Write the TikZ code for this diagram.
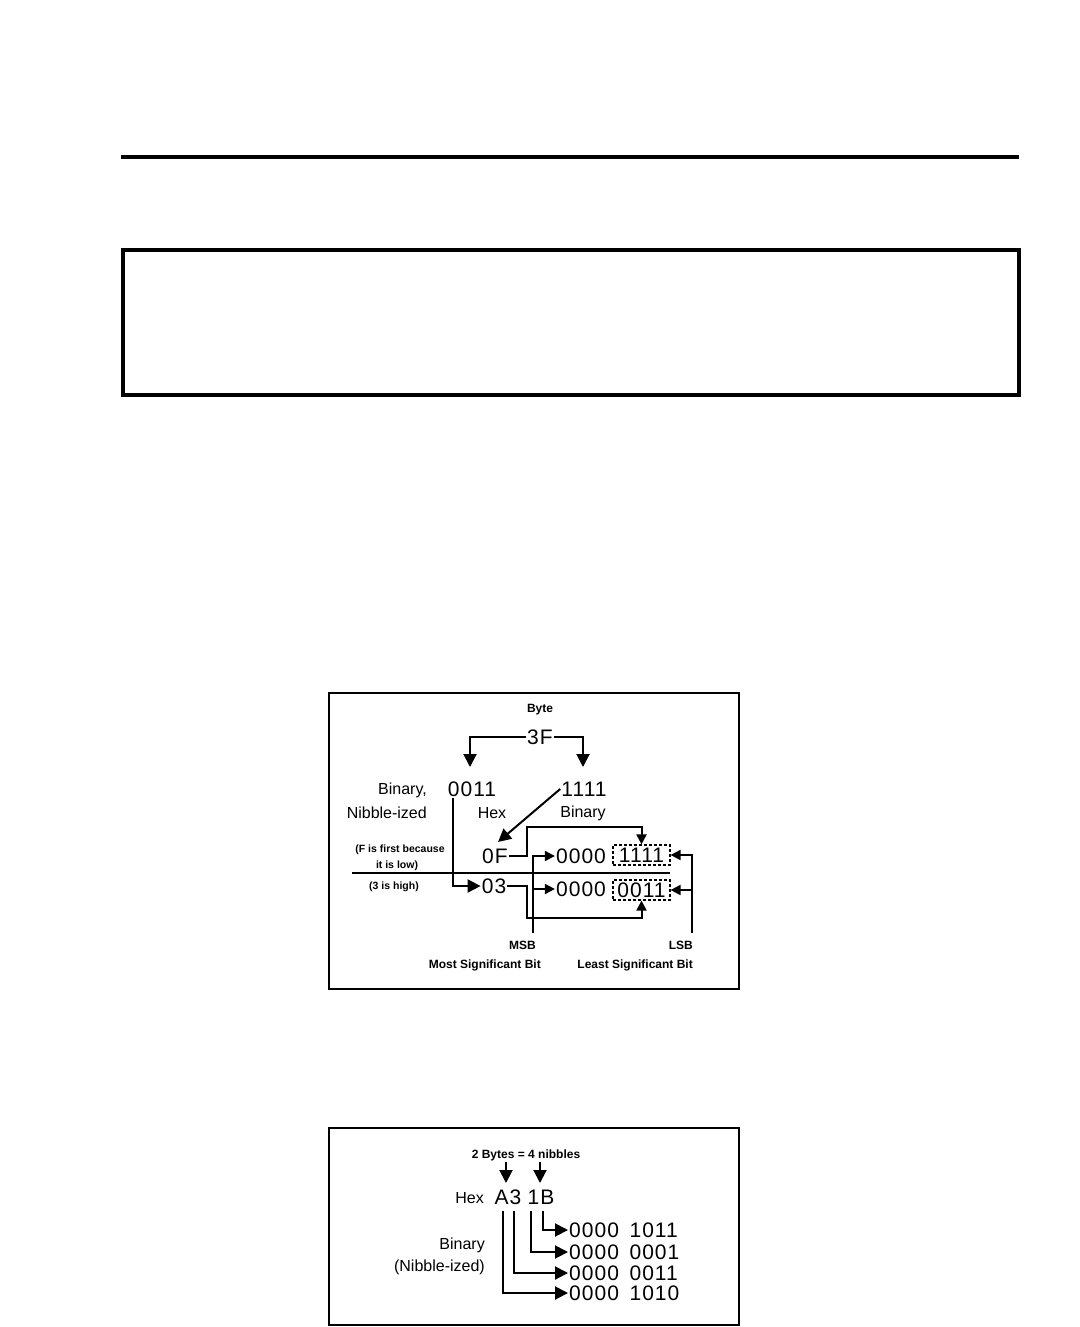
\documentclass[tikz,border=0pt]{standalone}
\usepackage{fontspec}
\setmainfont{Liberation Sans}
\newfontfamily\digitfont[LetterSpace=5]{Liberation Sans}
\usetikzlibrary{arrows.meta}
\tikzset{x=1pt,y=-1pt,
  every node/.style={inner sep=1pt},
  wire/.style={line width=2pt},
  bighead/.style={wire,-{Triangle[width=13pt,length=13pt]}},
  smallhead/.style={wire,-{Triangle[width=10pt,length=10pt]}},
  digits/.style={font=\digitfont\fontsize{21}{24}\selectfont},
  caption/.style={font=\fontsize{16}{18}\selectfont},
  smalltxt/.style={font=\bfseries\fontsize{12}{14}\selectfont},
  notetxt/.style={font=\bfseries\fontsize{10.5}{12}\selectfont},
  nibblebox/.style={digits,draw,line width=1.2pt,dash pattern=on 3pt off 2pt,
    minimum width=57pt,minimum height=20pt,inner sep=0pt},
  panel/.style={line width=2pt},
  heavy/.style={line width=4pt}}

\begin{document}
\begin{tikzpicture}
\path[use as bounding box] (0,0) rectangle (1079,1327);
% page furniture
\draw[heavy] (121,157) -- (1019,157);
\draw[heavy] (123,250) rectangle (1019,395);
\draw[panel] (329,693) rectangle (739,989);
\draw[panel] (329,1128) rectangle (739,1325);

% one byte split into nibbles
\node[smalltxt] (byte) at (540,710) {Byte};
\node[digits] (hex3F) at (540,737) {3F};
\coordinate (hiTip) at (470,767);
\coordinate (loTip) at (583,767);
\draw[bighead] (hex3F.west) -| (hiTip);
\draw[bighead] (hex3F.east) -| (loTip);

\node[caption,anchor=east] (binLbl) at (428,790) {Binary,};
\node[caption,anchor=east] (nibLbl) at (428,813) {Nibble-ized};
\node[digits] (bin0011) at (472,789) {0011};
\node[digits] (bin1111) at (584,789) {1111};
\node[caption] (hexLbl) at (492,813) {Hex};
\node[caption] (binLbl2) at (583,813) {Binary};

\node[notetxt] (noteF1) at (400,850) {(F is first because};
\node[notetxt] (noteF2) at (397,866) {it is low)};
\node[notetxt] (note3) at (394,887) {(3 is high)};
\coordinate (sepL) at (352,873);
\coordinate (sepR) at (670,873);
\draw[wire] (sepL) -- (sepR);

\node[digits] (hex0F) at (495,856) {0F};
\node[digits] (hex03) at (494,886) {03};
\node[digits] (zeroLo) at (581,856) {0000};
\node[digits] (zeroHi) at (581,889) {0000};
\node[nibblebox] (loBits) at (641.5,855) {1111};
\node[nibblebox] (hiBits) at (641.5,890) {0011};

\coordinate (hiDrop) at (453,798);
\draw[bighead] (hiDrop) |- (hex03.west);
\coordinate (tipF) at (498,842);
\draw[bighead] (bin1111.west) -- (tipF);
\coordinate (jogF) at (527,827);
\draw[smallhead] (hex0F.east) -| (jogF) -| (loBits.north);
\coordinate (jog3) at (527,918);
\draw[smallhead] (hex03.east) -| (jog3) -| (hiBits.south);

\node[smalltxt,anchor=east] (msb) at (537,945) {MSB};
\node[smalltxt,anchor=east] (msbTxt) at (542,965) {Most Significant Bit};
\node[smalltxt,anchor=east] (lsb) at (694,945) {LSB};
\node[smalltxt,anchor=east] (lsbTxt) at (694,965) {Least Significant Bit};
\coordinate (msbFoot) at (533,933);
\coordinate (lsbFoot) at (692,933);
\draw[smallhead] (msbFoot) |- (zeroLo.west);
\draw[smallhead] (msbFoot |- zeroHi.west) -- (zeroHi.west);
\draw[smallhead] (lsbFoot) |- (loBits.east);
\draw[smallhead] (lsbFoot |- hiBits.east) -- (hiBits.east);

% two bytes, four nibbles
\node[smalltxt] (count) at (526,1155) {2 Bytes = 4 nibbles};
\coordinate (tipA3) at (506,1183);
\coordinate (tip1B) at (540,1183);
\draw[bighead] (count.south -| tipA3) -- (tipA3);
\draw[bighead] (count.south -| tip1B) -- (tip1B);
\node[caption,anchor=east] (hexLbl3) at (485,1198) {Hex};
\node[digits] (hexA3) at (508,1197) {A3};
\node[digits] (hex1B) at (541,1197) {1B};
\node[caption,anchor=east] (binLbl3) at (486,1245) {Binary};
\node[caption,anchor=east] (nibLbl3) at (486,1267) {(Nibble-ized)};

\node[digits,anchor=west] (rowB) at (568,1230) {0000\enspace 1011};
\node[digits,anchor=west] (row1) at (568,1252) {0000\enspace 0001};
\node[digits,anchor=west] (row3) at (568,1273) {0000\enspace 0011};
\node[digits,anchor=west] (rowA) at (568,1293) {0000\enspace 1010};
\coordinate (dropA) at (503,1211);
\coordinate (drop3) at (514,1211);
\coordinate (drop1) at (531,1211);
\coordinate (dropB) at (543,1211);
\draw[bighead] (dropB) |- (rowB.west);
\draw[bighead] (drop1) |- (row1.west);
\draw[bighead] (drop3) |- (row3.west);
\draw[bighead] (dropA) |- (rowA.west);
\end{tikzpicture}
\end{document}
